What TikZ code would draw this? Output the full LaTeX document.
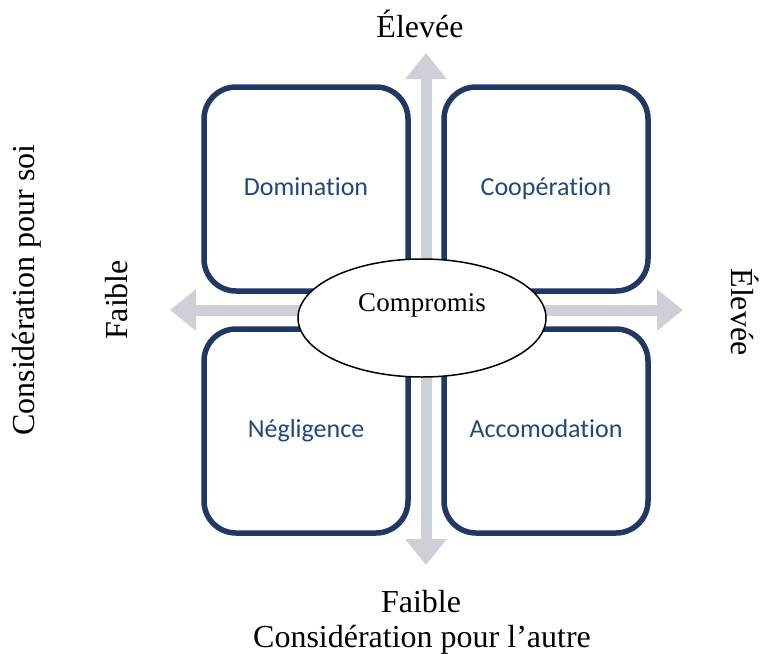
\documentclass[tikz,border=0pt]{standalone}
\usepackage{fontspec}
\setmainfont{Liberation Serif}
\newfontfamily\quadfont[Ligatures=NoCommon]{Carlito}
\usetikzlibrary{arrows.meta, shapes.geometric}
\definecolor{quadline}{RGB}{31,56,100}
\definecolor{quadtext}{RGB}{31,73,125}
\definecolor{axisgray}{RGB}{205,208,216}

\begin{document}
\begin{tikzpicture}[
  x=1pt, y=-1pt,
  quad/.style={rectangle, draw=quadline, line width=5.5pt, rounded corners=32pt,
               fill=white, minimum width=204pt, minimum height=204pt,
               text height=18pt, text depth=6pt,
               font=\quadfont\fontsize{26}{30}\selectfont, text=quadtext},
  axis/.style={{Triangle[width=40pt,length=26pt]}-{Triangle[width=40pt,length=26pt]},
               line width=11pt, axisgray},
  lbl/.style={font=\fontsize{32}{36}\selectfont, inner sep=0pt}
]
  \useasboundingbox (0,0) rectangle (768,653);

  % axes
  \coordinate (vTop) at (426,53);
  \coordinate (vBot) at (426,565);
  \coordinate (hLeft) at (170,310);
  \coordinate (hRight) at (683,310);
  \draw[axis] (vBot) -- (vTop);
  \draw[axis] (hLeft) -- (hRight);

  % quadrants
  \node[quad] (dom) at (306,189) {Domination};
  \node[quad] (coop) at (546,189) {Coopération};
  \node[quad] (negl) at (306,431) {Négligence};
  \node[quad] (acco) at (546,431) {Accomodation};

  % centre
  \node[ellipse, draw, line width=1.5pt, fill=white, minimum width=248pt,
        minimum height=118pt, inner sep=0pt] (comp) at (422,318) {};
  \node[font=\fontsize{27}{30}\selectfont] (compT) at ([yshift=13pt]comp.center) {Compromis};

  % axis labels
  \node[lbl, anchor=base] (highV) at (420,37) {Élevée};
  \node[lbl, anchor=base] (lowV) at (421,612) {Faible};
  \node[lbl, anchor=base] (autreT) at (422,647) {Considération pour l’autre};
  \node[lbl, rotate=90] (lowH) at (117,300) {Faible};
  \node[lbl, rotate=90] (soiT) at (27,290) {Considération pour soi};
  \node[lbl, rotate=-90] (highH) at (745,312) {Élevée};
\end{tikzpicture}
\end{document}
